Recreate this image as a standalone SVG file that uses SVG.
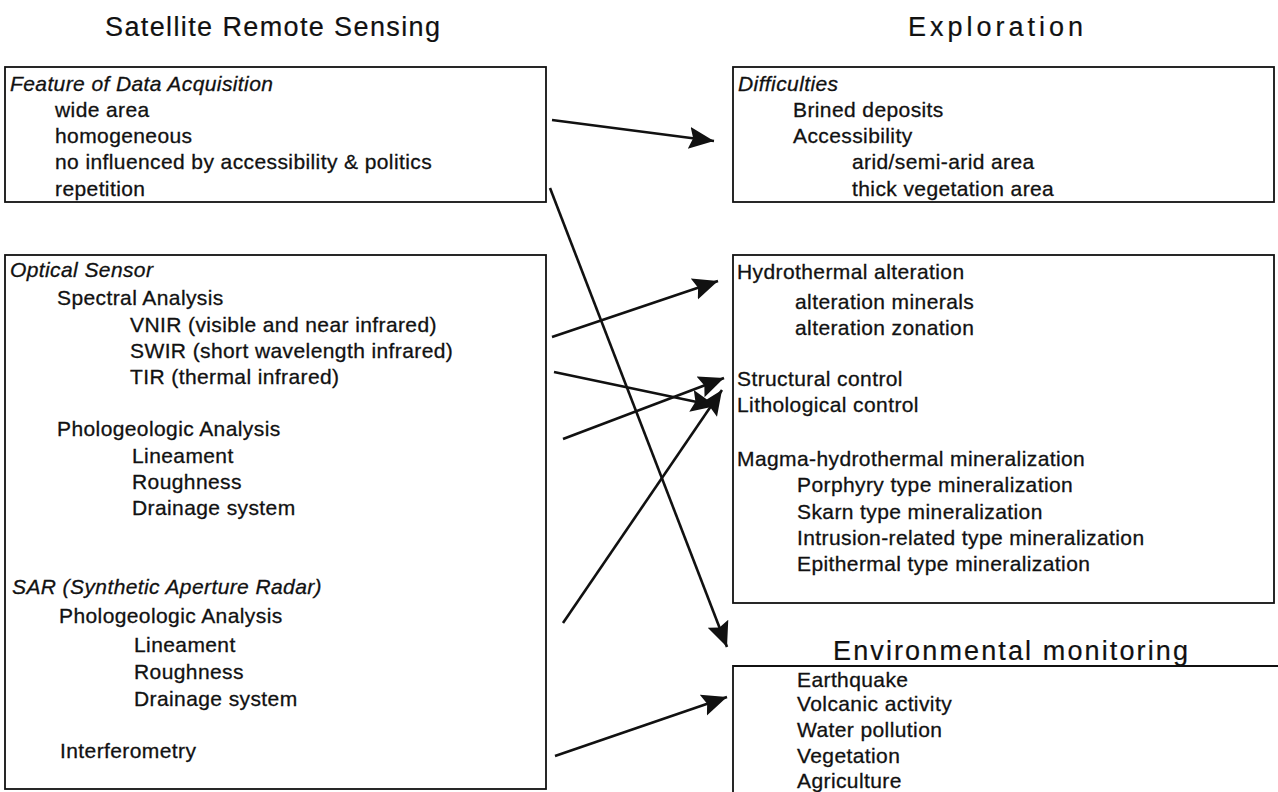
<svg xmlns="http://www.w3.org/2000/svg" width="1278" height="792" viewBox="0 0 1278 792">
<defs>
<style>
text{font-family:"Liberation Sans",Arial,sans-serif;fill:#111;stroke:#111;stroke-width:0.3px;}
.t{font-size:21px;letter-spacing:0.4px;}
.i{font-style:italic;}
.h{font-size:27px;stroke-width:0.2px;}
.box{fill:none;stroke:#111;stroke-width:1.8;}
.arr{fill:none;stroke:#111;stroke-width:2.6;marker-end:url(#ah);}
</style>
<marker id="ah" markerUnits="userSpaceOnUse" markerWidth="28" markerHeight="26" refX="25" refY="11" orient="auto">
<path d="M0,0 L25,11 L0,22 L4,11 Z" fill="#111"/>
</marker>
</defs>
<rect width="1278" height="792" fill="#fff"/>
<g id="title-left"><text class="h" x="105" y="36" textLength="335" lengthAdjust="spacing">Satellite Remote Sensing</text></g>
<g id="title-right"><text class="h" x="908" y="36" textLength="175" lengthAdjust="spacing">Exploration</text></g>
<g id="feature">
<rect class="box" x="5" y="67" width="541" height="135"/>
<text class="t i" x="10" y="91">Feature of Data Acquisition</text>
<text class="t" x="55" y="117">wide area</text>
<text class="t" x="55" y="143">homogeneous</text>
<text class="t" x="55" y="169">no influenced by accessibility &amp; politics</text>
<text class="t" x="55" y="196">repetition</text>
</g>
<g id="sensors">
<rect class="box" x="5" y="255" width="541" height="534"/>
<text class="t i" x="10" y="277">Optical Sensor</text>
<text class="t" x="57" y="305">Spectral Analysis</text>
<text class="t" x="130" y="332">VNIR (visible and near infrared)</text>
<text class="t" x="130" y="358">SWIR (short wavelength infrared)</text>
<text class="t" x="130" y="384">TIR (thermal infrared)</text>
<text class="t" x="57" y="436">Phologeologic Analysis</text>
<text class="t" x="132" y="463">Lineament</text>
<text class="t" x="132" y="489">Roughness</text>
<text class="t" x="132" y="515">Drainage system</text>
<text class="t i" x="12" y="594">SAR (Synthetic Aperture Radar)</text>
<text class="t" x="59" y="623">Phologeologic Analysis</text>
<text class="t" x="134" y="652">Lineament</text>
<text class="t" x="134" y="679">Roughness</text>
<text class="t" x="134" y="706">Drainage system</text>
<text class="t" x="60" y="758">Interferometry</text>
</g>
<g id="difficulties">
<rect class="box" x="733" y="67" width="541" height="135"/>
<text class="t i" x="738" y="91">Difficulties</text>
<text class="t" x="793" y="117">Brined deposits</text>
<text class="t" x="793" y="143">Accessibility</text>
<text class="t" x="852" y="169">arid/semi-arid area</text>
<text class="t" x="852" y="196">thick vegetation area</text>
</g>
<g id="targets">
<rect class="box" x="733" y="255" width="541" height="348"/>
<text class="t" x="737" y="279">Hydrothermal alteration</text>
<text class="t" x="795" y="309">alteration minerals</text>
<text class="t" x="795" y="335">alteration zonation</text>
<text class="t" x="737" y="386">Structural control</text>
<text class="t" x="737" y="412">Lithological control</text>
<text class="t" x="737" y="466">Magma-hydrothermal mineralization</text>
<text class="t" x="797" y="492">Porphyry type mineralization</text>
<text class="t" x="797" y="519">Skarn type mineralization</text>
<text class="t" x="797" y="545">Intrusion-related type mineralization</text>
<text class="t" x="797" y="571">Epithermal type mineralization</text>
</g>
<g id="environment">
<text class="h" x="833" y="660" textLength="355" lengthAdjust="spacing">Environmental monitoring</text>
<path class="box" d="M1280,666 H733 V794"/>
<text class="t" x="797" y="687">Earthquake</text>
<text class="t" x="797" y="711">Volcanic activity</text>
<text class="t" x="797" y="737">Water pollution</text>
<text class="t" x="797" y="763">Vegetation</text>
<text class="t" x="797" y="788">Agriculture</text>
</g>
<g id="connectors">
<line class="arr" x1="552" y1="120" x2="714" y2="141"/>
<line class="arr" x1="552" y1="337" x2="718" y2="281"/>
<line class="arr" x1="550" y1="188" x2="727" y2="647"/>
<line class="arr" x1="554" y1="372" x2="716" y2="406"/>
<line class="arr" x1="563" y1="439" x2="724" y2="378"/>
<line class="arr" x1="563" y1="623" x2="722" y2="390"/>
<line class="arr" x1="555" y1="756" x2="727" y2="697"/>
</g>
</svg>
